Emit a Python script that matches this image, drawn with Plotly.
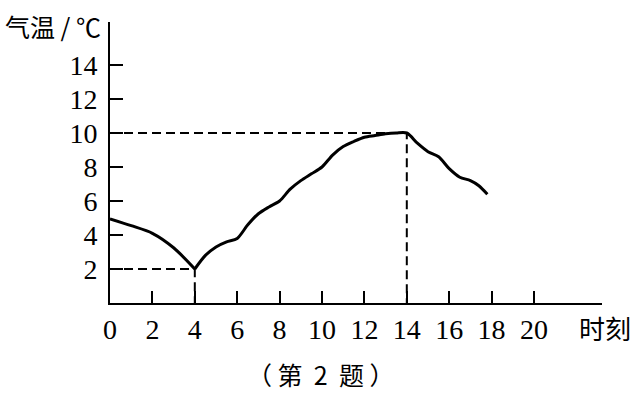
import plotly.graph_objects as go

# data
hours = [0, 1, 2, 3, 4, 4.5, 5, 5.5, 6, 6.5, 7, 7.5, 8, 8.5, 9, 9.5, 10, 10.5, 11, 11.5,
         12, 12.5, 13, 13.5, 14, 14.5, 15, 15.5, 16, 16.5, 17, 17.4, 17.8]
temps = [4.95, 4.55, 4.1, 3.25, 2.0, 2.8, 3.3, 3.6, 3.8, 4.6, 5.25, 5.65, 6.0, 6.7, 7.2, 7.6, 8.0,
         8.7, 9.2, 9.5, 9.75, 9.85, 9.95, 10.0, 10.0, 9.4, 8.9, 8.6, 7.9, 7.4, 7.2, 6.9, 6.4]
marked_hours = [4, 14]
marked_temps = [2, 10]
x_ticks = [0, 2, 4, 6, 8, 10, 12, 14, 16, 18, 20]
y_ticks = [2, 4, 6, 8, 10, 12, 14]

W, H = 636, 395
ML, MR, MT, MB = 110, 34, 22, 92
PW, PH = W - ML - MR, H - MT - MB


def px(xp):
    return (xp - ML) / PW


def py(yp):
    return (H - MB - yp) / PH


fig = go.Figure()

for h, t in zip(marked_hours, marked_temps):
    fig.add_trace(go.Scatter(x=[0, h, h], y=[t, t, 0], mode="lines",
                             line=dict(color="black", width=2, dash="9px,5px"),
                             hoverinfo="skip", showlegend=False))

imin = temps.index(min(temps))
segments = [(hours[:imin + 1], temps[:imin + 1]), (hours[imin:], temps[imin:])]
for xs, ys in segments:
    fig.add_trace(go.Scatter(x=xs, y=ys, mode="lines",
                             line=dict(color="black", width=3, shape="spline", smoothing=0.8),
                             showlegend=False))

serif = "Times New Roman"
cjk = "Noto Sans CJK SC"

fig.update_layout(
    width=W, height=H,
    margin=dict(l=ML, r=MR, t=MT, b=MB),
    paper_bgcolor="white", plot_bgcolor="white",
    font=dict(family=serif, color="black", size=28),
    xaxis=dict(range=[0, PW / 21.2], tickvals=x_ticks, ticktext=[str(v) for v in x_ticks],
               ticks="inside", ticklen=12, tickwidth=2, tickcolor="black",
               showline=True, linecolor="black", linewidth=2,
               showgrid=False, zeroline=False,
               tickfont=dict(family=serif, size=28, color="black"),
               ticklabelstandoff=0),
    yaxis=dict(range=[0, PH / 17.0], tickvals=y_ticks, ticktext=[str(v) for v in y_ticks],
               ticks="inside", ticklen=13, tickwidth=2, tickcolor="black",
               showline=True, linecolor="black", linewidth=2,
               showgrid=False, zeroline=False,
               tickfont=dict(family=serif, size=28, color="black"),
               ticklabelstandoff=5),
    annotations=[
        dict(text="气温 / ℃", x=px(3), y=py(26), xref="paper", yref="paper",
             xanchor="left", yanchor="middle", showarrow=False,
             font=dict(family=cjk, size=25, color="black")),
        dict(text="时刻", x=px(577), y=py(327), xref="paper", yref="paper",
             xanchor="left", yanchor="middle", showarrow=False,
             font=dict(family=cjk, size=26, color="black")),
        dict(text="（ 第  2  题 ）", x=px(320), y=py(374), xref="paper", yref="paper",
             xanchor="center", yanchor="middle", showarrow=False,
             font=dict(family=cjk, size=25, color="black")),
    ],
)

fig.write_html("out.html")
